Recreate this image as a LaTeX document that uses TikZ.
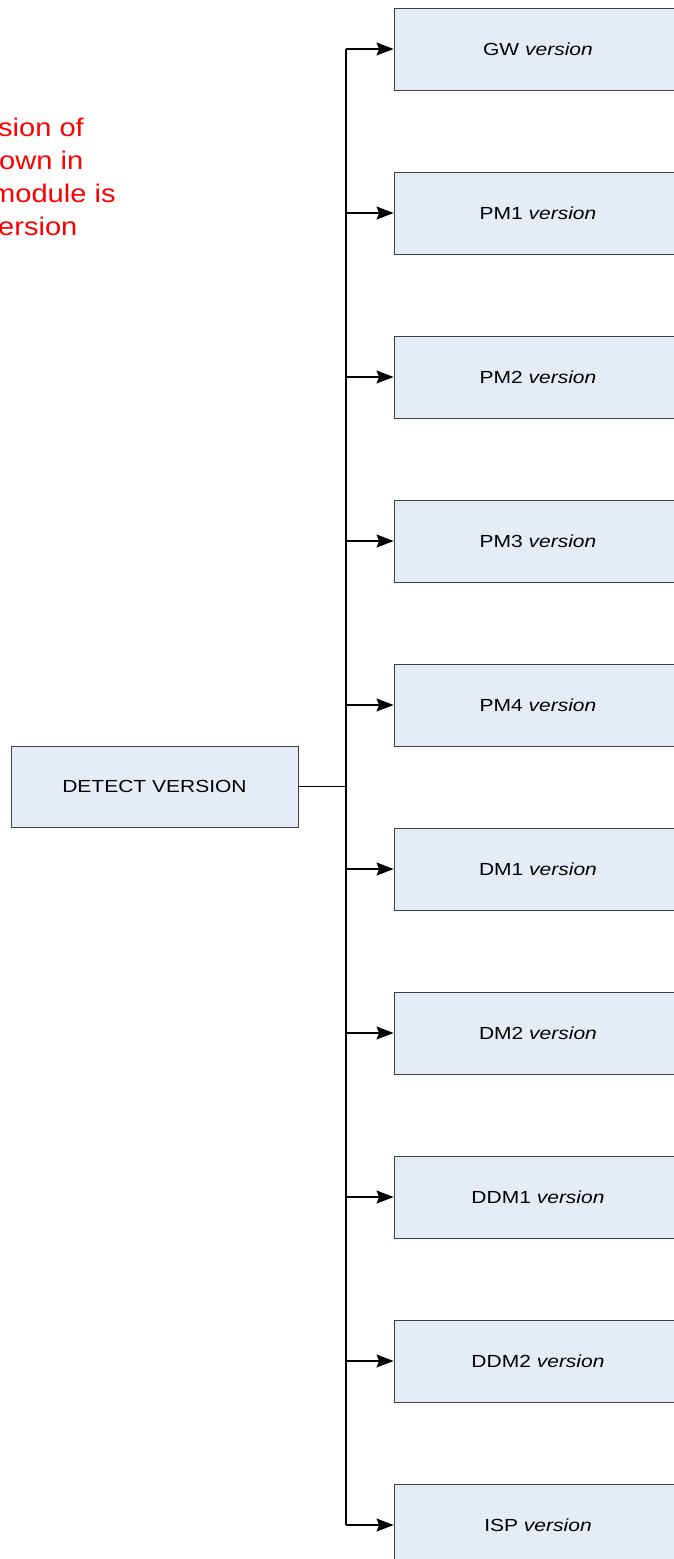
\documentclass[tikz,border=0pt]{standalone}
\usepackage{fontspec}
\setmainfont{Liberation Sans}
\usetikzlibrary{arrows.meta}
\definecolor{boxfill}{RGB}{230,236,246}
\definecolor{redtext}{RGB}{255,0,0}
\tikzset{
  vbox/.style={draw=black!75, line width=0.9pt, fill=boxfill, minimum width=288pt, minimum height=82pt, inner sep=0pt, font=\fontsize{17.5}{20}\selectfont},
  arr/.style={line width=1.2pt, -{Stealth[length=17pt,width=13pt,inset=2.5pt]}},
  conn/.style={line width=1.2pt},
  note/.style={text=redtext, anchor=base west, inner sep=0pt, font=\fontsize{25.5}{30}\selectfont}
}
\newcommand{\sx}[1]{\scalebox{1.2}[1]{#1}}
\newcommand{\rx}[1]{\scalebox{1.14}[1]{#1}}
\begin{document}
\begin{tikzpicture}[x=1pt,y=-1pt]
\useasboundingbox (0,0) rectangle (673,1559);
\node[vbox] (gw)   at (538,49)   {\sx{GW \textit{version}}};
\node[vbox] (pm1)  at (538,213)  {\sx{PM1 \textit{version}}};
\node[vbox] (pm2)  at (538,377)  {\sx{PM2 \textit{version}}};
\node[vbox] (pm3)  at (538,541)  {\sx{PM3 \textit{version}}};
\node[vbox] (pm4)  at (538,705)  {\sx{PM4 \textit{version}}};
\node[vbox] (dm1)  at (538,869)  {\sx{DM1 \textit{version}}};
\node[vbox] (dm2)  at (538,1033) {\sx{DM2 \textit{version}}};
\node[vbox] (ddm1) at (538,1197) {\sx{DDM1 \textit{version}}};
\node[vbox] (ddm2) at (538,1361) {\sx{DDM2 \textit{version}}};
\node[vbox] (isp)  at (538,1525) {\sx{ISP \textit{version}}};
\node[vbox, minimum width=287pt, minimum height=81pt] (det) at (154.5,786.5) {\sx{DETECT VERSION}};
\coordinate (j) at (346,786.5);
\draw[conn] (det.east) -- (j);
\draw[conn] (j |- gw.west) -- (j |- isp.west);
\foreach \b in {gw,pm1,pm2,pm3,pm4,dm1,dm2,ddm1,ddm2,isp}{
  \draw[arr] (j |- \b.west) -- (\b.west);
}
\node[note] (n1) at (-2,136) {\rx{sion of}};
\node[note] (n2) at (-1,169) {\rx{own in}};
\node[note] (n3) at (-9,202) {\rx{module is}};
\node[note] (n4) at (-2,235) {\rx{ersion}};
\end{tikzpicture}
\end{document}
